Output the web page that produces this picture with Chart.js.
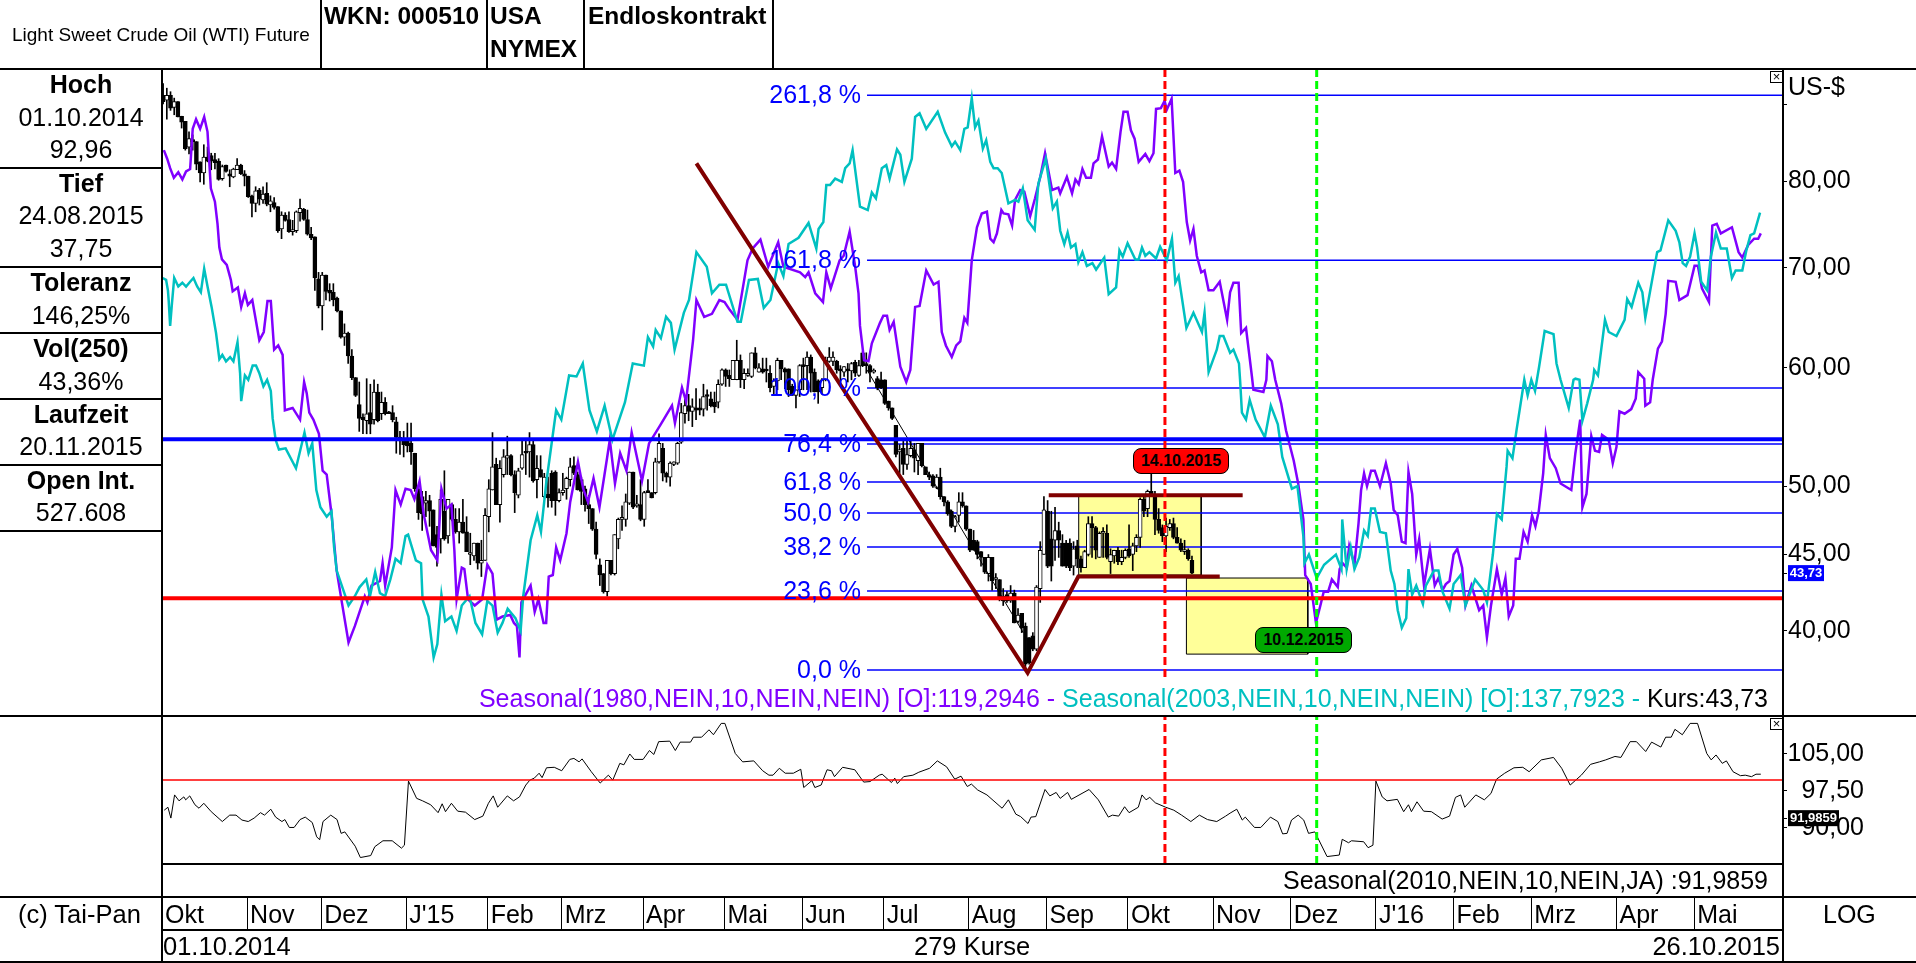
<!DOCTYPE html>
<html lang="de">
<head>
<meta charset="utf-8">
<title>Light Sweet Crude Oil (WTI) Future</title>
<script src="https://cdn.jsdelivr.net/npm/chart.js@4/dist/chart.umd.min.js"></script>
<style>
  html, body { margin: 0; padding: 0; background: #fff; overflow: hidden; }
  #page { position: relative; width: 1916px; height: 963px; overflow: hidden; font-family: "Liberation Sans", Arial, sans-serif; color: #000; }
  #page canvas { position: absolute; }
  .t { position: absolute; white-space: nowrap; font-size: 25px; line-height: 30px; height: 30px; }
  .b { font-weight: bold; }
  .cell { left: 0; width: 162px; text-align: center; }
  .h { position: absolute; background: #000; height: 2px; }
  .v { position: absolute; background: #000; width: 2px; }
  .tag { position: absolute; border: 1px solid #000; border-radius: 8px; text-align: center; font-weight: bold; font-size: 16px; box-sizing: border-box; }
  .closeBox { position: absolute; width: 11px; height: 10px; border: 1px solid #000; font-size: 13px; line-height: 9px; text-align: center; background: #fff; }
</style>
</head>
<body>
<div id="page">
  <canvas id="mainCanvas" width="1916" height="963" style="left:0;top:0"></canvas>
  <canvas id="subCanvas" width="1916" height="963" style="left:0;top:0"></canvas>
  <canvas id="monthCanvas" width="1916" height="34" style="left:0;top:897px"></canvas>

  <div class="h" style="left:0;top:68px;width:1916px"></div>
  <div class="h" style="left:0;top:715px;width:1916px"></div>
  <div class="h" style="left:162px;top:863px;width:1621px"></div>
  <div class="h" style="left:0;top:896px;width:1916px"></div>
  <div class="h" style="left:162px;top:929px;width:1621px"></div>
  <div class="h" style="left:0;top:961px;width:1916px"></div>
  <div class="h" style="left:0;top:167px;width:162px"></div>
  <div class="h" style="left:0;top:266px;width:162px"></div>
  <div class="h" style="left:0;top:332px;width:162px"></div>
  <div class="h" style="left:0;top:398px;width:162px"></div>
  <div class="h" style="left:0;top:464px;width:162px"></div>
  <div class="h" style="left:0;top:530px;width:162px"></div>
  <div class="v" style="left:161px;top:68px;height:895px"></div>
  <div class="v" style="left:1782px;top:68px;height:895px"></div>
  <div class="v" style="left:320px;top:0;height:69px"></div>
  <div class="v" style="left:486px;top:0;height:69px"></div>
  <div class="v" style="left:583px;top:0;height:69px"></div>
  <div class="v" style="left:772px;top:0;height:69px"></div>

  <div class="t" style="left:12px;top:20px;font-size:19px">Light Sweet Crude Oil (WTI) Future</div>
  <div class="t b" style="left:324px;top:1px;font-size:24.5px">WKN: 000510</div>
  <div class="t b" style="left:490px;top:1px;font-size:24.5px">USA</div>
  <div class="t b" style="left:490px;top:34px;font-size:24.5px">NYMEX</div>
  <div class="t b" style="left:588px;top:1px;font-size:24.5px">Endloskontrakt</div>

  <div class="t cell b" style="top:69px">Hoch</div>
  <div class="t cell" style="top:102px">01.10.2014</div>
  <div class="t cell" style="top:134px">92,96</div>
  <div class="t cell b" style="top:168px">Tief</div>
  <div class="t cell" style="top:200px">24.08.2015</div>
  <div class="t cell" style="top:233px">37,75</div>
  <div class="t cell b" style="top:267px">Toleranz</div>
  <div class="t cell" style="top:300px">146,25%</div>
  <div class="t cell b" style="top:333px">Vol(250)</div>
  <div class="t cell" style="top:366px">43,36%</div>
  <div class="t cell b" style="top:399px">Laufzeit</div>
  <div class="t cell" style="top:431px">20.11.2015</div>
  <div class="t cell b" style="top:465px">Open Int.</div>
  <div class="t cell" style="top:497px">527.608</div>

  <div class="t" style="left:1788px;top:71px">US-$</div>
  <div class="closeBox" style="left:1770px;top:71px">&times;</div>
  <div class="closeBox" style="left:1770px;top:718px">&times;</div>

  <div class="tag" style="left:1133px;top:448px;width:96px;height:26px;line-height:24px;background:#ff0000">14.10.2015</div>
  <div class="tag" style="left:1255px;top:627px;width:97px;height:26px;line-height:24px;background:#00a800">10.12.2015</div>

  <div class="t" style="right:148px;top:683px"><span style="color:#8000ff">Seasonal(1980,NEIN,10,NEIN,NEIN) [O]:119,2946 - </span><span style="color:#00c0c0">Seasonal(2003,NEIN,10,NEIN,NEIN) [O]:137,7923 - </span><span>Kurs:43,73</span></div>
  <div class="t" style="right:148px;top:865px">Seasonal(2010,NEIN,10,NEIN,JA) :91,9859</div>

  <div class="t" style="left:18px;top:899px;font-size:25.5px">(c) Tai-Pan</div>
  <div class="t" style="left:163px;top:931px;font-size:25.5px">01.10.2014</div>
  <div class="t" style="left:914px;top:931px;font-size:25.5px">279 Kurse</div>
  <div class="t" style="right:136px;top:931px;font-size:25.5px">26.10.2015</div>
  <div class="t" style="left:1823px;top:899px">LOG</div>
</div>

<script>
// Kursdaten, 279 Handelstage ab 01.10.2014
const candleOpen = [
  91.3,90.6,91.3,89.6,90.4,88.4,87.7,84.3,85.2,85.0,82.4,81.0,83.0,83.2,82.7,82.5,80.3,82.0,80.9,80.5,
  81.4,82.0,80.9,80.6,78.2,77.3,78.9,77.7,78.5,77.1,77.4,76.9,74.3,75.9,75.4,74.0,74.1,76.2,76.6,75.4,
  73.7,73.4,68.8,66.0,69.2,67.6,67.4,66.8,65.5,62.9,63.3,61.1,59.1,56.7,55.6,55.3,56.0,55.4,57.8,55.9,
  56.9,56.0,56.0,55.2,53.9,53.7,53.7,53.4,52.6,49.8,49.2,48.7,48.9,48.2,46.4,46.1,48.1,46.3,48.6,47.5,
  46.6,47.3,46.6,45.0,44.9,45.8,44.4,44.6,47.7,49.7,51.7,48.6,50.9,52.2,52.4,50.9,49.3,51.4,52.7,52.7,
  53.3,50.5,51.3,49.2,49.4,51.0,51.1,48.9,49.5,49.8,50.5,51.6,50.9,50.5,49.8,48.6,48.3,46.8,44.3,43.7,
  42.5,44.6,43.7,46.1,47.5,47.5,48.7,51.1,48.5,48.6,47.5,49.6,49.5,49.5,51.9,53.0,51.0,50.7,51.7,51.8,
  53.5,55.9,56.6,56.1,56.4,56.4,56.3,57.5,57.2,56.9,56.9,58.5,59.8,59.3,58.9,58.9,60.7,58.9,59.3,59.2,
  61.4,59.6,59.9,59.8,59.5,58.3,58.8,60.7,59.9,59.9,58.3,57.5,58.0,60.3,60.2,61.0,59.6,58.8,58.2,58.9,
  60.6,60.6,60.6,59.9,59.6,59.9,59.7,60.5,59.3,61.4,60.4,60.2,59.6,59.0,58.9,58.9,57.0,56.4,54.9,52.7,
  53.0,51.7,52.4,52.9,52.0,53.4,51.5,50.9,50.8,49.9,50.7,49.2,48.8,48.1,47.0,47.8,48.8,48.5,46.8,46.0,
  45.9,45.2,44.8,43.7,44.8,43.3,43.3,42.2,42.3,41.9,42.4,40.6,41.1,40.3,39.6,39.7,38.9,42.7,45.0,48.1,
  46.1,46.0,46.7,45.8,45.8,45.8,44.2,45.6,44.7,44.1,45.0,47.2,46.9,44.8,46.5,46.5,44.5,44.9,45.3,44.5,
  44.8,45.4,45.0,45.6,46.2,49.0,48.3,49.6,49.3,47.5,46.9,46.3,46.9,47.2,46.2,45.8,45.2,45.3,44.6
];
const candleHigh = [
  92.96,92.3,91.8,90.9,90.4,88.4,87.7,86.3,85.9,85.0,82.4,84.6,84.3,83.5,83.5,82.8,82.0,82.0,81.4,81.6,
  82.8,82.1,81.3,80.6,78.3,79.3,79.1,79.3,79.8,78.2,78.0,76.9,76.3,76.2,76.3,75.3,76.4,77.8,76.7,76.5,
  74.5,73.4,69.5,69.5,69.2,68.3,68.3,66.9,65.5,64.2,63.4,61.7,59.1,58.7,55.9,59.0,58.5,58.9,58.5,57.8,
  57.3,56.1,56.6,55.6,54.4,54.4,55.1,55.1,52.6,49.8,49.6,49.6,49.3,48.2,47.0,49.7,51.2,49.0,48.7,48.3,
  48.3,49.0,47.7,46.5,45.8,45.8,46.0,48.3,50.5,54.3,52.2,52.0,52.9,54.0,52.5,51.2,51.4,53.6,53.6,54.3,
  53.6,52.4,52.4,51.0,50.7,51.2,51.2,49.8,51.0,50.7,52.2,52.3,51.1,50.7,50.0,49.3,48.3,47.3,44.7,43.7,
  44.6,44.6,46.4,47.6,48.5,49.4,51.1,51.1,49.3,50.5,49.6,50.5,49.5,52.2,54.2,53.4,51.1,51.9,51.9,53.5,
  56.8,57.2,57.6,57.2,58.1,57.2,58.5,58.0,57.8,57.8,58.9,59.9,59.9,59.8,60.7,62.6,61.2,59.9,59.9,61.4,
  61.9,60.4,60.9,60.9,60.2,59.0,60.9,60.7,60.0,59.9,58.5,58.0,60.3,60.9,61.5,61.2,59.9,58.9,59.0,61.0,
  61.9,61.5,60.7,60.2,60.1,60.4,60.5,60.7,60.7,61.5,61.4,60.3,59.9,59.2,59.6,58.9,57.0,56.4,54.9,53.3,
  53.6,53.6,53.7,53.4,53.4,53.4,51.5,51.1,50.9,50.9,51.4,49.2,48.9,48.2,47.8,49.5,49.5,48.5,46.8,46.7,
  46.0,45.2,44.8,45.0,44.8,43.7,43.3,42.7,42.5,42.9,42.6,41.4,41.1,40.5,39.6,39.9,42.9,45.9,49.2,48.9,
  48.1,48.4,47.3,46.4,46.0,46.1,45.9,46.0,44.9,45.3,47.7,47.7,47.0,46.6,46.9,47.1,45.4,45.3,45.5,45.3,
  45.4,47.1,45.8,46.4,49.1,49.3,49.7,51.0,49.6,48.3,47.1,47.6,47.5,47.6,46.9,46.1,46.0,45.4,44.9
];
const candleLow = [
  90.1,88.0,89.2,88.6,88.3,86.8,83.9,83.4,83.9,81.4,79.9,79.6,82.4,81.4,81.5,80.1,80.1,81.1,79.3,80.4,
  81.4,80.8,79.4,78.0,75.7,76.3,77.1,77.3,77.0,76.3,76.6,73.9,73.2,75.2,73.9,73.6,73.9,75.2,75.3,73.6,
  73.1,67.6,65.8,63.6,66.6,66.5,66.0,65.4,62.8,62.1,60.4,58.9,57.4,54.4,54.2,54.2,54.2,55.0,55.2,55.4,
  55.8,55.9,55.2,52.6,52.5,52.3,52.7,51.7,49.6,47.5,46.7,47.7,47.0,45.6,44.2,45.1,46.0,45.8,47.4,46.5,
  45.8,46.5,45.2,44.3,44.6,44.0,43.5,44.6,46.6,49.7,48.6,47.3,50.7,50.9,50.8,48.0,49.1,51.3,50.9,50.7,
  50.3,49.1,50.7,49.1,48.4,48.4,47.8,48.8,49.3,49.0,50.0,50.9,49.7,48.6,48.1,47.2,46.7,44.7,42.9,42.4,
  42.2,43.6,43.6,45.4,46.7,47.0,48.6,48.3,48.4,47.4,47.0,49.5,49.1,49.4,51.8,50.4,50.3,50.0,51.6,51.7,
  53.4,55.1,55.3,54.8,55.4,55.8,55.7,56.2,56.5,56.0,56.4,58.4,58.3,58.3,58.9,58.9,58.2,58.1,59.2,59.1,
  59.9,59.6,59.5,58.7,57.8,57.5,58.0,58.9,58.1,57.4,57.5,56.4,57.4,58.0,58.0,57.8,57.8,56.8,57.6,58.8,
  60.5,60.2,59.5,58.8,59.2,58.7,58.9,59.2,59.2,60.1,59.5,58.7,59.5,58.0,58.1,56.7,56.2,55.4,52.3,51.0,
  50.9,51.3,52.3,51.1,50.9,51.5,50.9,50.5,49.9,49.8,49.0,48.5,47.8,46.9,46.6,47.3,48.4,46.7,45.2,45.3,
  44.7,44.2,43.7,43.2,42.6,42.7,41.9,41.6,41.8,41.8,40.5,40.5,39.9,37.75,38.0,38.8,38.8,41.8,45.0,44.1,
  43.2,44.6,44.8,44.2,44.1,43.9,43.6,44.1,43.8,44.1,44.9,44.8,44.7,44.8,44.8,44.7,43.7,44.4,44.3,44.3,
  44.7,44.8,43.9,45.2,45.5,47.7,47.7,49.3,46.4,46.5,45.9,45.2,46.7,46.1,45.8,45.2,45.0,44.6,43.7
];
const candleClose = [
  90.4,91.3,89.5,90.4,88.3,87.6,84.1,85.4,85.0,82.1,81.0,83.0,82.5,82.5,82.3,80.2,81.8,81.2,80.6,81.5,
  82.0,80.9,80.6,78.1,77.3,78.8,77.8,78.4,77.2,77.6,76.8,74.1,75.9,75.3,74.0,74.2,76.3,76.7,75.4,73.7,
  73.3,68.9,66.0,69.2,67.5,67.3,66.6,65.5,62.9,63.3,61.1,59.1,57.5,55.5,55.4,55.9,55.0,57.8,55.3,56.9,
  55.9,55.9,55.4,53.9,53.6,53.3,53.2,52.7,49.8,48.0,47.9,48.9,48.1,45.6,45.5,49.0,46.1,49.0,47.5,46.6,
  47.3,46.5,45.2,45.1,45.8,44.4,44.6,47.8,49.8,51.5,48.6,51.4,52.3,52.4,50.9,49.5,51.2,52.5,52.6,53.3,
  50.4,51.4,50.7,50.7,49.1,48.9,48.9,49.5,49.7,50.6,51.5,51.0,49.7,49.6,48.6,48.3,46.8,45.0,43.6,42.5,
  44.6,43.7,46.4,47.5,47.5,48.8,51.1,48.4,48.6,47.5,49.5,49.5,49.1,51.9,53.4,51.0,50.7,51.8,51.9,53.4,
  56.0,56.6,56.1,56.5,56.2,56.2,57.4,57.4,56.6,56.5,58.5,59.8,59.2,59.0,60.7,60.7,58.9,59.5,59.5,61.4,
  60.0,60.0,59.6,59.7,58.2,58.8,60.7,59.9,59.6,58.0,57.5,58.0,60.2,60.1,61.0,59.5,57.8,57.8,58.9,60.7,
  61.0,61.0,59.8,59.7,60.1,59.7,60.4,59.5,60.2,60.2,60.2,59.6,59.6,58.2,58.2,56.8,56.4,55.5,52.5,52.9,
  51.7,52.5,53.0,52.2,53.4,51.6,50.9,50.7,50.0,50.7,49.2,48.8,47.9,47.0,47.7,48.8,48.5,46.8,45.3,45.3,
  45.0,44.8,43.8,44.8,43.2,43.3,42.0,41.9,41.9,42.4,40.5,41.0,40.2,38.0,38.1,38.9,42.8,45.3,48.2,44.2,
  44.2,46.7,46.0,44.2,44.2,44.1,45.4,44.7,44.1,45.2,47.2,46.9,45.3,46.5,46.6,44.8,45.0,45.3,44.5,44.8,
  45.3,44.9,45.6,46.2,49.0,48.1,49.6,49.4,47.5,46.7,46.3,47.0,47.2,46.2,45.8,45.3,45.3,44.7,43.73
];

// Seasonal 1980: Handelstag, Wert
const seasonal1980Sessions = [
  0.5,1.4,2.2,3.2,4.4,5.5,6.5,7.6,8.3,9.2,10.3,11.4,12.3,12.8,13.2,14.3,15,15.5,16.2,17.5,18.6,19.1,20.5,21.4,22.4,23.2,24.4,26.3,27.5,28.5,
  29.4,30.3,31.4,32.6,33.2,35.3,37.3,38.4,39.1,39.8,40.9,42.4,43.4,44.5,45.8,47.2,48.6,50.4,52.1,54.8,55.5,56.6,58.9,59.6,60.3,62.1,63.1,64.5,65.8,67.2,
  68.2,69.6,70.7,72.7,74.4,75.5,76.9,78.2,79,79.6,81,81.7,82.7,84.5,86.5,87.9,89.3,90.4,92,94.1,95.1,95.9,96.6,97.1,99.6,100.7,101.7,103.1,103.8,104.5,
  105.6,106.5,107.6,109.3,110.3,112.4,113.8,115.1,116.6,118.2,120.3,121,122.4,123.8,125.5,126.9,129.7,131.6,134.6,137.8,138.6,140.5,141.6,143.5,144.4,146.5,148.6,150.6,152,153.4,
  155.5,158.2,159.6,161.7,163.8,166.5,167.9,172.4,173.8,174.7,176.5,178.6,179.5,180.7,183.1,184.2,185.8,187.3,188.2,188.6,189.7,190.9,191.8,194,194.9,195.9,196.6,197.7,199.5,201.1,
  202.2,203.5,204.7,206.5,208.5,209.8,210.7,211.8,213.4,214.6,215.7,216.8,217.6,218.8,220.2,221.5,222.9,223.8,224.7,225.6,226.8,227.4,228.7,229.7,230.5,231.9,233,234.6,235.9,237.3,
  238.6,240.5,242.2,242.7,244.5,245.9,246.8,247.7,248.7,249.7,251,251.7,252.9,254,255.8,256.7,257.8,259,259.8,260.9,261.8,262.8,263.9,265.7,266.8,267.9,268.6,269.9,270.9,271.5,
  272.8,273.8,274.9,275.9,276.9,277.8,278.7,279.6,280.8,281.7,282.8,284.1,285.8,287.8,288.6,289.5,290.9,291.6,292.9,294.5,294.9,297.6,298.4,298.7,299.9,300.8,302.4,303.7,305.8,307,
  308.4,308.9,310.4,311.8,313,313.9,315.1,316.1,317.7,318.2,319,320.1,320.8,322.2,323.3,324,324.8,325.6,326.7,327.7,329.1,330.7,332,332.8,333.9,335,336,336.8,337.8,338.9,
  339.7,341,342.6,343.9,344.9,346,346.9,347.9,349,350,351.3,352.2,353.8,355.9,357,358,359.1,360.7,362,363,363.9,365.1,365.8,366.8,367.9,369,370.2,371.1,372,373.2,
  373.9,375,376.6,377.9,380.8,381.9,383.2,383.8,384.9,386.2,387.2,388.3,389.1,390.9,392,393,393.8,395.2,397,398.2,398.9,400.5,400.8,402.1,402.8,404.2,405.3,406.3,407,409,
  410,412.2,414.1,415,416.1,418,418.9,420.1,421.2,424.2,426,427,428.6,430.2,431.3,432
];
const seasonal1980Values = [
  83.9,82.8,81.6,80.4,81.1,80.2,81.2,81.5,86.7,88.0,86.7,88.3,86.3,82.2,79.1,77.5,74.9,72.2,70.9,70.3,68.7,67.5,67.9,65.9,67.3,66.1,66.6,62.6,63.4,66.5,
  66.5,61.7,62.1,61.2,56.2,56.4,55.4,58.7,57.7,56.0,55.4,54.2,51.2,50.9,47.9,43.9,41.8,39.3,40.3,42.2,41.8,42.9,43.2,44.4,42.9,45.5,49.7,48.6,49.8,49.7,
  49.0,50.4,47.9,45.3,44.6,49.8,48.3,48.6,45.3,42.0,44.1,44.0,42.0,41.6,42.0,44.3,43.7,40.7,40.9,41.0,40.5,40.3,38.4,41.8,42.9,41.2,42.0,40.5,40.5,43.5,
  43.6,45.5,44.6,46.5,48.8,51.9,49.8,48.8,50.6,48.4,52.3,53.7,50.2,52.6,51.2,54.3,50.4,53.4,54.9,56.6,55.1,58.2,57.0,62.6,66.6,64.9,65.2,66.6,66.4,65.6,
  64.6,70.8,72.1,73.1,70.1,72.8,70.1,69.5,69.0,69.5,67.3,66.4,69.5,67.8,70.8,71.3,74.0,70.1,67.3,64.0,60.7,60.6,62.3,64.3,65.0,65.0,63.6,64.4,60.1,58.7,
  59.8,65.9,66.0,69.7,68.2,68.5,63.4,62.1,61.0,62.1,62.5,64.8,64.3,70.8,74.5,76.1,76.3,73.2,72.8,73.8,76.5,76.1,76.0,74.7,77.7,78.9,78.7,75.8,77.9,80.5,
  83.5,78.9,79.2,78.5,80.5,78.5,80.2,79.6,81.5,80.4,80.4,82.2,82.7,85.7,81.8,82.3,81.5,86.3,89.0,89.0,86.5,85.4,82.4,83.4,82.5,83.5,89.4,89.5,90.5,89.3,
  90.8,81.0,81.3,79.9,75.1,73.0,74.3,71.3,69.5,69.7,67.6,67.6,68.5,64.6,67.4,68.4,68.4,63.3,63.8,59.2,58.0,57.8,58.9,61.1,60.6,58.9,56.8,54.5,52.0,50.2,
  47.5,43.6,43.0,40.5,41.6,42.5,42.5,43.3,42.8,44.0,44.4,44.1,45.6,44.3,47.2,49.7,51.0,50.0,51.2,51.2,50.0,51.8,50.2,48.2,47.8,45.9,45.8,51.1,49.4,45.0,
  46.1,42.9,45.4,42.9,43.4,42.6,43.0,43.2,45.0,45.4,44.1,41.6,42.9,41.3,41.6,39.6,41.6,44.0,42.3,43.4,40.9,41.6,44.7,44.7,46.6,45.9,47.8,47.0,48.1,51.0,
  54.1,52.2,51.4,50.2,49.7,52.6,55.4,48.4,49.4,54.0,52.8,52.7,54.1,53.7,51.8,53.1,56.1,55.9,56.3,57.2,59.6,59.0,56.6,56.9,58.9,61.8,62.5,65.2,68.6,68.5,
  66.6,67.1,70.2,70.2,67.8,66.4,74.7,74.9,73.8,74.5,71.7,71.1,72.5,73.2,73.2,73.8
];

// Seasonal 2003: Handelstag, Wert
const seasonal2003Sessions = [
  0.2,1.1,1.6,1.8,2.2,2.7,3.3,4.4,5.5,6.5,7.6,8.5,9.5,10.5,11.4,12.3,13.4,14.6,15.5,16.3,17.3,18.4,19.3,20.4,21.1,21.4,22.4,23.3,24.5,25.4,
  26.3,27.4,28.4,29.4,29.9,30.7,31.6,33.4,36.2,38.5,39.6,40.6,41.7,42.8,44.5,45.8,46.5,47.2,50.4,52.1,53.4,55.2,56.2,57.6,58.9,60.3,61.7,63.1,64.5,65.8,
  66.5,68.6,70,70.4,72,73.4,74.4,75.5,76.5,78.2,79.6,81,83.1,84.7,86.5,87.9,89.3,90.7,92,93.4,95.5,96.9,97.6,99.6,101.4,102.4,103.8,106.5,107.9,110,
  112,113.7,115.1,115.5,117.5,119.6,121.7,125.1,127.2,130.2,131.3,132.7,133.4,134.8,136.2,137.5,138.5,141,142.4,144.4,147.2,148.6,150.6,152.4,155.5,156.4,158.6,161,162.6,164.4,
  166.5,167.9,169.3,172,174.7,176.8,177.4,178.7,179.5,180.5,181.9,183.7,184.6,185.8,186.6,188.6,190.7,191.8,192.9,194.5,195.7,196.6,198.6,199.5,200.6,202.6,203.5,204.7,206.5,209.6,
  211.6,213.4,214.3,215.7,216.8,217.7,218.8,219.7,220.6,221.8,222.7,223.8,224.7,225.8,226.9,228.7,230.5,231.4,232.6,233.9,235.8,236.8,238.8,240.7,241.8,242.7,243.8,244.7,245.6,246.8,
  247.6,248.7,249.9,251.4,252.4,254.6,255.8,257.8,258.7,259.6,260.9,263,263.9,264.8,265.7,266.8,268.6,269.7,271.5,272.9,273.8,274.7,276.8,278.7,281,281.7,282.8,285,285.8,286.8,
  288.6,289.5,291,291.3,291.8,292.9,293.9,295.5,298,299.6,301.5,302.7,305.3,306.8,308.4,308.7,309.9,312,314,317.2,318.7,318.9,320.1,321.2,322.2,323.5,324.8,325.8,326.7,327.7,
  329.1,330.7,332,333,333.9,335,336.2,336.8,337.8,338.9,340.7,341.5,343.7,344.9,346,347.9,349,350.9,352.2,354.8,357,358,359.6,360.7,362,363.3,363.6,364.9,366,368.1,
  369,370,371,372.1,373.6,376,376.8,377.9,380.1,381.4,381.9,383,383.8,385.1,386.7,387,388,389.9,390.9,393,395.2,395.9,397.1,398.9,400,400.8,404,404.9,407,409,
  410,410.9,411.8,412.9,414.1,414.8,415.9,417.5,418.5,419.9,421.2,422.8,424.2,425.2,427,428.1,429.2,430.2,431.8
];
const seasonal2003Values = [
  68.9,68.7,67.6,66.6,64.0,66.3,68.9,68.0,68.4,68.0,68.5,68.9,68.0,67.4,69.9,68.0,65.9,63.3,60.8,61.2,60.6,61.0,60.6,62.4,59.5,57.0,59.3,58.9,60.2,60.2,
  59.5,58.3,58.9,57.9,55.5,53.7,52.9,53.0,51.4,54.3,52.6,53.4,49.7,48.4,47.7,48.1,45.5,43.9,41.6,42.2,42.8,43.3,42.2,43.8,42.4,42.2,43.3,44.7,44.4,46.3,
  46.4,44.6,44.4,42.0,40.9,38.4,39.2,42.3,40.6,40.9,40.0,41.6,42.2,40.5,39.8,41.9,41.6,39.9,40.5,41.4,40.8,40.0,42.2,46.0,47.8,46.6,50.2,56.2,55.4,59.3,
  59.2,60.4,57.1,56.2,54.4,56.6,53.7,56.9,60.4,60.2,62.9,62.0,63.6,62.8,64.9,64.3,61.7,65.3,66.6,71.7,70.1,67.3,68.2,68.2,64.4,64.4,68.7,68.8,65.8,66.6,
  70.5,69.1,72.6,73.3,75.0,72.1,74.3,75.1,79.5,79.5,80.3,79.9,81.6,82.2,83.9,76.9,76.5,78.6,77.9,81.6,82.0,80.3,84.0,83.3,79.9,82.8,88.3,88.8,86.7,89.0,
  86.2,84.4,85.0,83.9,86.7,86.9,90.9,86.9,87.8,84.1,85.2,82.4,81.6,81.6,81.0,77.3,77.7,77.5,79.1,75.3,74.2,79.7,82.8,76.7,77.5,74.1,72.6,73.9,72.2,72.6,
  70.6,71.7,70.2,70.5,69.8,71.1,67.2,67.9,71.9,71.2,72.7,70.9,70.9,72.2,71.3,71.7,71.0,72.3,70.8,73.2,68.4,69.1,63.8,65.3,63.4,65.3,59.6,61.7,63.0,63.0,
  61.4,61.7,60.4,58.9,56.0,55.4,57.1,55.4,53.9,56.6,55.0,52.3,49.8,50.0,46.3,44.4,45.0,43.4,44.3,45.0,44.0,47.5,44.0,45.5,44.0,44.8,46.7,46.3,48.3,48.3,
  46.6,46.5,43.9,43.0,41.3,40.2,40.8,44.0,42.3,42.9,41.7,42.9,43.9,43.9,42.5,41.4,43.0,43.6,41.6,43.3,42.6,41.8,45.0,47.9,47.5,51.5,52.8,52.2,54.5,58.9,
  57.5,58.9,57.9,60.1,63.5,63.2,60.4,58.9,56.4,58.9,59.0,58.9,55.3,56.8,58.9,59.8,59.3,64.6,63.4,63.0,64.6,66.7,65.9,68.4,67.4,64.8,71.7,71.9,75.3,74.1,
  72.8,70.5,70.2,71.2,73.8,72.2,68.5,67.6,71.2,73.9,72.1,72.1,68.9,69.7,69.7,71.9,73.6,73.8,76.2
];

// Unterer Bereich: Seasonal 2010
const seasonal2010Sessions = [
  0.6,1.6,2.4,3.4,4.6,5.9,6.4,7.5,8.9,10,11.3,13.3,16.3,18.3,20,21.6,23.3,24.9,26.6,27.7,29.4,30.7,32.4,33.2,34.4,35.7,37.3,38.7,40.6,41.8,
  42.6,43.5,45.6,47.3,48.4,49.4,52.2,53.6,56.4,57.5,59.7,62.2,64.7,65.5,66.6,68.8,70.4,72.6,74.6,75.7,76.6,78.2,79.9,82,84.5,86.7,88.2,89.5,90.7,93.3,
  95,96.6,98.3,99.4,100.6,101.9,102.7,103.9,106,108,110.2,111.3,112.7,113.5,116,118.4,120.6,121.8,123.7,124.8,126.4,127.6,130,131.7,132.9,134.2,137.2,138.7,140,142.8,
  143.6,145.8,147.8,149,151.1,152.1,154.9,156.9,159.9,162.3,164,165.1,166.8,168.4,170.6,172.6,173.4,175.6,176.4,178.1,179.7,180.9,181.7,183.9,187.2,189.6,191.3,193.8,194.6,197.1,
  198,198.7,200.4,202.9,204.5,207.4,209.5,212,214.2,215.9,217.6,218.7,220.4,222.9,227,228.7,230.7,232,234,234.8,236.1,238.6,239.9,241.6,242.7,244.7,245.7,250.5,253,255.7,
  256.8,258.5,260.1,261.3,263.8,264.8,265.9,266.9,268.4,271.2,273.4,275.5,278,280.3,282.5,285,287.4,288.6,290.4,291.9,292.7,295.2,296.9,299.5,301.5,302.8,304,305.2,307,308.5,
  309.8,311.5,314.8,318.1,318.9,320.6,321.4,324.7,325.9,327.2,328,329.7,331,333.8,335.5,336.8,337.6,339.1,340.9,343,345.9,347.9,349.5,350.9,352,355,357.3,359.1,360.6,362.8,
  365.3,367.7,369.4,372.7,376,378.2,380.5,383.5,386,388.4,390.1,392.6,394.2,396.7,398.4,400.9,402.5,405,406.3,407.8,408.8,410.8,412.9,414.9,417.4,418.6,419.9,421.6,422.7,424.5,
  426.5,427.8,429.5,430.7,432
];
const seasonal2010Values = [
  93.6,94.2,92.0,96.7,95.5,96.3,95.7,96.5,94.7,94.0,95.0,93.3,91.3,92.6,92.6,91.6,91.3,92.0,93.1,92.6,93.8,92.2,91.3,91.7,90.1,90.1,91.7,92.2,91.1,88.2,
  87.6,91.3,92.6,91.7,88.9,89.2,86.3,84.0,84.4,86.2,87.4,87.4,85.9,86.5,99.5,96.0,95.5,94.7,93.1,94.9,93.3,95.0,93.4,93.2,91.7,92.4,95.0,96.5,94.2,96.5,
  95.5,96.3,98.7,99.7,100.1,101.1,100.2,102.2,102.3,101.6,103.9,104.1,103.4,104.0,101.4,99.1,100.7,99.7,103.1,102.8,105.0,103.9,103.9,105.7,104.9,107.5,107.6,105.7,107.4,107.4,
  108.4,108.4,109.9,108.9,111.2,111.2,105.1,103.4,103.6,101.6,100.7,100.7,102.1,101.1,101.1,101.9,98.2,99.6,98.2,98.7,101.8,101.6,100.4,102.3,101.8,99.3,99.4,100.7,100.9,99.2,
  100.1,99.0,100.4,100.7,101.3,102.1,103.6,102.4,99.9,100.5,98.4,98.9,97.7,96.7,94.0,95.7,92.8,92.3,90.9,92.2,92.3,97.8,96.5,97.2,96.0,97.2,95.8,97.8,95.7,92.2,
  92.6,92.4,94.3,93.1,94.2,96.7,95.7,96.2,95.1,94.2,93.6,92.6,91.3,92.6,91.7,91.3,92.4,93.0,93.8,91.6,92.2,90.1,90.1,92.2,91.3,88.8,88.9,91.6,92.6,91.6,
  88.9,89.2,84.2,84.5,87.7,87.0,87.4,87.2,86.0,86.5,99.5,96.3,95.5,95.8,93.3,94.7,93.3,95.3,93.4,93.3,91.8,92.4,96.2,96.7,94.2,96.7,95.7,97.0,99.9,101.1,
  102.2,102.3,101.4,103.8,104.3,102.1,98.7,100.7,102.9,103.4,103.8,104.5,104.3,107.5,107.5,105.5,107.4,106.4,108.4,108.4,110.0,108.9,111.2,111.2,105.1,103.8,104.8,103.1,103.6,101.4,
  100.6,100.7,100.4,100.9,100.9
];
const seasonal2010Mean = 99.7;
const seasonal2010Last = 91.9859;

// Fibonacci-Niveaus und Marken
const fibLabels = ['261,8 %', '161,8 %', '100,0 %', '76,4 %', '61,8 %', '50,0 %', '38,2 %', '23,6 %', '0,0 %'];
const fibLevels = [91.3, 70.8, 58.16, 53.35, 50.32, 47.97, 45.52, 42.54, 37.67];
const fibStartSession = 190.5;
const resistanceLevel = 53.74;
const supportLevel = 42.07;
const lastPrice = 43.73;
const redMarkerSession = 271;
const greenMarkerSession = 312;

// Trendlinien und Kursziel-Rechtecke (Handelstag, Kurs)
const zigzagSessions = [144.4, 233.9, 247.6, 285.8];
const zigzagValues = [82.2, 37.5, 43.5, 43.5];
const rangeTopSessions = [239.6, 292];
const rangeTopValues = [49.3, 49.3];
const downtrendSessions = [190.5, 232.7];
const downtrendValues = [59.8, 39.9];
const boxASessions = [247.7, 280.8];
const boxARange = [43.6, 49.3];
const boxBSessions = [276.8, 309.6];
const boxBRange = [38.6, 43.4];

// Achsen
const sessionMax = 438;
const priceMin = 35.09, priceMax = 95.07, markerPriceEnd = 37.03;
const priceTicks = [40, 43.73, 45, 50, 60, 70, 80, 90];
const subMin = 82.69, subMax = 112.7;
const subTicks = [90, 91.9859, 97.5, 105];
const monthLabels = ['Okt', 'Nov', 'Dez', "J'15", 'Feb', 'Mrz', 'Apr', 'Mai', 'Jun', 'Jul', 'Aug', 'Sep', 'Okt', 'Nov', 'Dez', "J'16", 'Feb', 'Mrz', 'Apr', 'Mai'];
const monthSessions = [0, 23, 43, 66, 88, 108, 130, 152, 173, 195, 218, 239, 261, 284, 305, 328, 349, 370, 393, 414];

const FONT = '"Liberation Sans", Arial, sans-serif';
Chart.defaults.font.family = FONT;
Chart.defaults.color = '#000';
Chart.defaults.animation = false;

const comma = (v) => v.toFixed(2).replace('.', ',');
const points = (xs, ys) => xs.map((x, i) => ({ x, y: ys[i] }));

function lineSet(data, color, width, order, extra) {
  return Object.assign({
    type: 'line', data, borderColor: color, borderWidth: width, order,
    pointRadius: 0, tension: 0, fill: false, borderJoinStyle: 'miter'
  }, extra || {});
}

// Wert-Schild neben der Achse
function drawValueTag(chart, scale, value, text, bg, width) {
  const { ctx } = chart;
  const y = scale.getPixelForValue(value);
  ctx.save();
  ctx.fillStyle = bg;
  ctx.fillRect(scale.left + 5, y - 8, width, 16);
  ctx.fillStyle = '#fff';
  ctx.font = 'bold 13px ' + FONT;
  ctx.textBaseline = 'middle';
  ctx.textAlign = 'center';
  ctx.fillText(text, scale.left + 5 + width / 2, y + 0.5);
  ctx.restore();
}

const fibLabelPlugin = {
  id: 'fibLabels',
  afterDatasetsDraw(chart) {
    const { ctx, scales } = chart;
    ctx.save();
    ctx.fillStyle = '#0000ff';
    ctx.font = '25px ' + FONT;
    ctx.textAlign = 'right';
    ctx.textBaseline = 'middle';
    const x = scales.x.getPixelForValue(fibStartSession) - 6;
    fibLevels.forEach((level, i) => {
      ctx.fillText(fibLabels[i], x, scales.y.getPixelForValue(level) + 1);
    });
    ctx.restore();
  },
  afterDraw(chart) {
    drawValueTag(chart, chart.scales.y, lastPrice, comma(lastPrice), '#0000ff', 36);
  }
};

const subTagPlugin = {
  id: 'subTag',
  afterDraw(chart) {
    drawValueTag(chart, chart.scales.y, seasonal2010Last, '91,9859', '#000', 51);
  }
};

// Kerzen als schwebende Balken: Docht und Koerper
const candleIndex = candleOpen.map((_, i) => i);
const wicks = candleIndex.map((i) => ({ x: i + 0.3, y: [candleLow[i], candleHigh[i]] }));
const bodies = candleIndex.map((i) => ({ x: i + 0.3, y: [candleOpen[i], candleClose[i]] }));
const bodyColors = candleIndex.map((i) => (candleClose[i] >= candleOpen[i] ? '#fff' : '#000'));

const fibSets = fibLevels.map((level) =>
  lineSet(points([fibStartSession, sessionMax], [level, level]), '#0000ff', 1.5, 9));

const boxFill = (sessions, range) => lineSet(points(sessions, [range[1], range[1]]), 'rgba(0,0,0,0)', 0, 12, {
  fill: { target: { value: range[0] } }, backgroundColor: '#ffff99'
});
const boxLine = (sessions, range) => lineSet(points(
  [sessions[0], sessions[1], sessions[1], sessions[0], sessions[0]],
  [range[1], range[1], range[0], range[0], range[1]]), '#000', 1, 11);

new Chart(document.getElementById('mainCanvas'), {
  type: 'bar',
  data: {
    datasets: [
      boxFill(boxASessions, boxARange),
      boxFill(boxBSessions, boxBRange),
      boxLine(boxASessions, boxARange),
      boxLine(boxBSessions, boxBRange),
      ...fibSets,
      { type: 'bar', data: wicks, backgroundColor: '#000', barThickness: 1, grouped: false, order: 8 },
      { type: 'bar', data: bodies, backgroundColor: bodyColors, borderColor: '#000', borderWidth: 1, borderSkipped: false, barThickness: 4, grouped: false, minBarLength: 2, order: 7 },
      lineSet(points(downtrendSessions, downtrendValues), '#000', 1, 6),
      lineSet(points(seasonal1980Sessions, seasonal1980Values), '#8000ff', 2.5, 5),
      lineSet(points(seasonal2003Sessions, seasonal2003Values), '#00c0c0', 2.5, 4),
      lineSet(points([0, sessionMax], [resistanceLevel, resistanceLevel]), '#0000ff', 4, 3),
      lineSet(points([0, sessionMax], [supportLevel, supportLevel]), '#ff0000', 4, 3),
      lineSet(points(zigzagSessions, zigzagValues), '#800000', 4, 2),
      lineSet(points(rangeTopSessions, rangeTopValues), '#800000', 4, 2),
      lineSet(points([redMarkerSession, redMarkerSession], [priceMax, markerPriceEnd]), '#ff0000', 3, 1, { borderDash: [8, 4] }),
      lineSet(points([greenMarkerSession, greenMarkerSession], [priceMax, markerPriceEnd]), '#00ff00', 3, 1, { borderDash: [8, 4] })
    ]
  },
  options: {
    responsive: false,
    devicePixelRatio: 1,
    layout: { padding: { left: 162, top: 69, bottom: 247, right: 0 } },
    plugins: { legend: { display: false }, tooltip: { enabled: false } },
    events: [],
    scales: {
      x: { type: 'linear', min: 0, max: sessionMax, offset: false, display: false },
      y: {
        type: 'logarithmic',
        position: 'right',
        min: priceMin,
        max: priceMax,
        bounds: 'data',
        afterBuildTicks: (scale) => { scale.ticks = priceTicks.map((value) => ({ value })); },
        afterFit: (scale) => { scale.width = 133; },
        grid: { drawOnChartArea: false, tickLength: 4, color: '#000' },
        border: { color: '#000' },
        ticks: {
          autoSkip: false,
          padding: 1,
          font: { size: 25 },
          color: '#000',
          callback: (value) => (value === 90 || value === lastPrice ? '' : comma(value))
        }
      }
    }
  },
  plugins: [fibLabelPlugin]
});

new Chart(document.getElementById('subCanvas'), {
  type: 'line',
  data: {
    datasets: [
      lineSet(points(seasonal2010Sessions, seasonal2010Values), '#000', 1, 3),
      lineSet(points([0, sessionMax], [seasonal2010Mean, seasonal2010Mean]), '#ff0000', 1.5, 2),
      lineSet(points([redMarkerSession, redMarkerSession], [subMin, subMax]), '#ff0000', 3, 1, { borderDash: [8, 4] }),
      lineSet(points([greenMarkerSession, greenMarkerSession], [subMin, subMax]), '#00ff00', 3, 1, { borderDash: [8, 4] })
    ]
  },
  options: {
    responsive: false,
    devicePixelRatio: 1,
    layout: { padding: { left: 162, top: 716, bottom: 99, right: 52 } },
    plugins: { legend: { display: false }, tooltip: { enabled: false } },
    events: [],
    scales: {
      x: { type: 'linear', min: 0, max: sessionMax, display: false },
      y: {
        type: 'linear',
        position: 'right',
        min: subMin,
        max: subMax,
        bounds: 'data',
        afterBuildTicks: (scale) => { scale.ticks = subTicks.map((value) => ({ value })); },
        afterFit: (scale) => { scale.width = 81; },
        grid: { drawOnChartArea: false, tickLength: 4, color: '#000' },
        border: { color: '#000' },
        ticks: {
          autoSkip: false,
          padding: 1,
          crossAlign: 'far',
          font: { size: 25 },
          color: '#000',
          callback: (value) => (value === seasonal2010Last ? '' : comma(value))
        }
      }
    }
  },
  plugins: [subTagPlugin]
});

// Monatsleiste
new Chart(document.getElementById('monthCanvas'), {
  type: 'line',
  data: { datasets: [] },
  options: {
    responsive: false,
    devicePixelRatio: 1,
    layout: { padding: { left: 162, right: 133, top: 0, bottom: 0 } },
    plugins: { legend: { display: false }, tooltip: { enabled: false } },
    events: [],
    scales: {
      y: { display: false },
      x: {
        type: 'linear',
        min: 0,
        max: sessionMax,
        afterBuildTicks: (scale) => { scale.ticks = monthSessions.map((value) => ({ value })); },
        afterFit: (scale) => { scale.height = 33; },
        grid: { drawOnChartArea: false, tickLength: 33, color: '#000' },
        border: { display: false },
        ticks: {
          autoSkip: false,
          maxRotation: 0,
          align: 'start',
          labelOffset: 3,
          padding: -30,
          font: { size: 25 },
          color: '#000',
          callback: (value) => monthLabels[monthSessions.indexOf(value)]
        }
      }
    }
  }
});
</script>
</body>
</html>
